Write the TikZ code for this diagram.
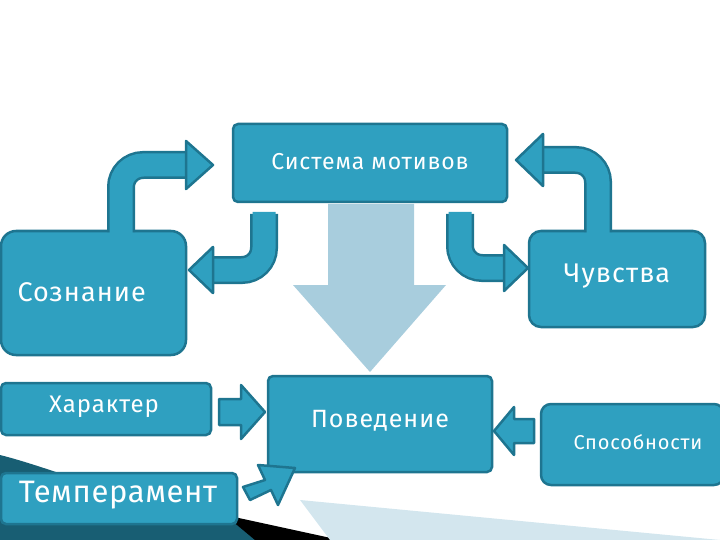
\documentclass[tikz,border=0pt]{standalone}
\usepackage{fontspec}
\setmainfont{Fira Sans}
\begin{document}
\begin{tikzpicture}[x=1pt,y=-1pt,
  box/.style={draw=bd,fill=bf,line width=2.5pt,rounded corners=5pt},
  lbl/.style={text=white,font=\fontsize{#1}{#1}\selectfont\addfontfeature{LetterSpace=4}},
  sh/.style={line width=28pt,draw=bd},
  shi/.style={line width=23pt,draw=bf},
  hd/.style={fill=bf,draw=bd,line width=2.5pt,line join=round}]
\definecolor{bf}{HTML}{2FA0C0}
\definecolor{bd}{HTML}{1E7590}
\definecolor{lb}{HTML}{A8CDDD}
\useasboundingbox (0,0) rectangle (720,540);
% decoration bottom-left
\fill[bd!80!black] (0,455) .. controls (60,470) and (150,510) .. (250,525) -- (330,540) -- (0,540) -- cycle;
\fill[black] (225,515) -- (340,540) -- (255,540) -- cycle;
\fill[lb!50] (300,500) -- (720,540) -- (330,540) -- cycle;
% big arrow
\fill[lb] (328,204) -- (414,204) -- (414,285) -- (446,285) -- (370,372) -- (293,285) -- (328,285) -- cycle;
% boxes
\draw[box] (233,124) rectangle (507,202);
\node[lbl=23] (sm) at (370,162) {Система мотивов};
\draw[box,rounded corners=15pt] (1,231) rectangle (186,355);
\node[lbl=27,anchor=west] (soz) at (14,292) {Сознание};
\draw[box,rounded corners=12pt] (529,231) rectangle (705,327);
\node[lbl=27] (ch) at (617,276) {Чувства};
\draw[box] (1,383) rectangle (211,435);
\node[lbl=24] (har) at (104,407) {Характер};
\draw[box] (1,473) rectangle (237,524);
\node[lbl=31,font=\fontsize{31}{31}\selectfont\addfontfeature{LetterSpace=2}] (tem) at (118,495) {Темперамент};
\draw[box] (268,376) rectangle (492,472);
\node[lbl=25] (pov) at (380,421) {Поведение};
\draw[box,rounded corners=10pt] (541,404) rectangle (724,485);
\node[lbl=20,text=white] (sp) at (638,442) {Способности};
% bent arrows
\coordinate (a1) at (121,232); \coordinate (a1b) at (121,165); \coordinate (a1e) at (188,165);
\draw[sh,rounded corners=22pt] (a1) -- (a1b) -- (a1e);
\draw[shi,rounded corners=22pt] ([yshift=-2]a1) -- (a1b) -- ([xshift=1]a1e);
\draw[hd] (186,141) -- (213,165) -- (186,189) -- cycle;
\coordinate (a2) at (264,214); \coordinate (a2b) at (264,270); \coordinate (a2e) at (212,270);
\draw[sh,rounded corners=22pt] (a2) -- (a2b) -- (a2e);
\draw[shi,rounded corners=22pt] ([yshift=2]a2) -- (a2b) -- ([xshift=-1]a2e);
\draw[hd] (213,247) -- (189,270) -- (213,293) -- cycle;
\coordinate (a3) at (460,214); \coordinate (a3b) at (460,268); \coordinate (a3e) at (506,268);
\draw[sh,rounded corners=22pt] (a3) -- (a3b) -- (a3e);
\draw[shi,rounded corners=22pt] ([yshift=2]a3) -- (a3b) -- ([xshift=1]a3e);
\draw[hd] (504,245) -- (528,268) -- (504,291) -- cycle;
\coordinate (a4) at (598,232); \coordinate (a4b) at (598,160); \coordinate (a4e) at (540,160);
\draw[sh,rounded corners=22pt] (a4) -- (a4b) -- (a4e);
\draw[shi,rounded corners=22pt] ([yshift=-2]a4) -- (a4b) -- ([xshift=-1]a4e);
\draw[hd] (543,134) -- (516,160) -- (543,186) -- cycle;
% straight block arrows
\draw[hd] (219,399) -- (241,399) -- (241,385) -- (265,412) -- (241,439) -- (241,425) -- (219,425) -- cycle;
\draw[hd] (534,419) -- (514,419) -- (514,407) -- (494,431) -- (514,455) -- (514,443) -- (534,443) -- cycle;
\draw[hd] (243,487) -- (265,480) -- (258,465) -- (295,468) -- (278,505) -- (271,490) -- (250,500) -- cycle;
\end{tikzpicture}
\end{document}
